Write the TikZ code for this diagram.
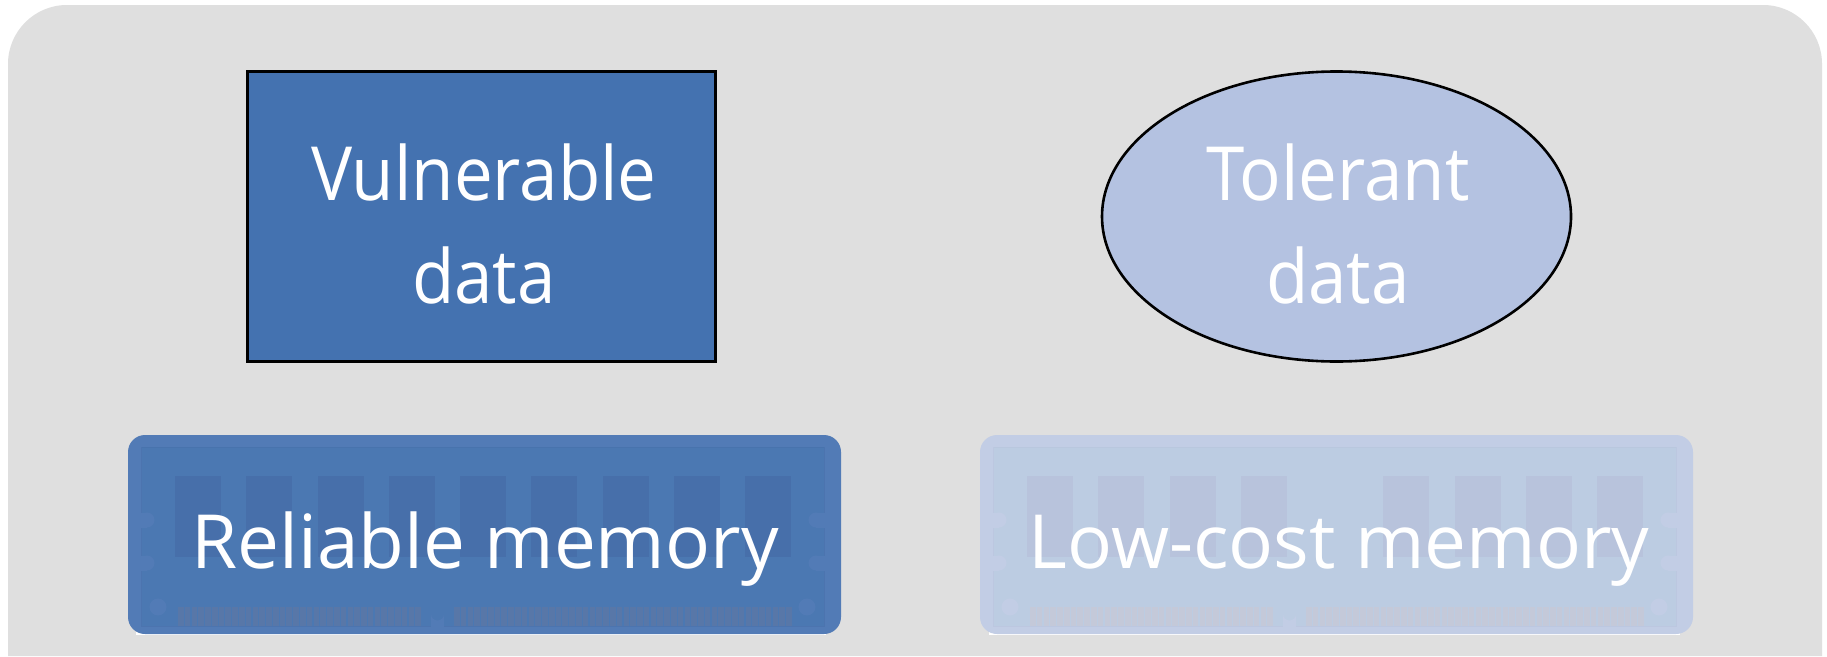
\documentclass[tikz,border=0pt]{standalone}
\usepackage{fontspec}
\setmainfont{Open Sans}
\usetikzlibrary{shapes.geometric}
\newcommand{\ramstick}[6]{% x, outer, inner, chip, pins, skip-chip
  \begin{scope}[shift={(#1,435)}]
    \fill[#2,rounded corners=17] (0,0) rectangle (713,199);
    \fill[#3] (13.5,12) rectangle (696,191);
    \draw[#4,opacity=.5,line width=1pt] (13.5,12) rectangle (696,191);
    \foreach \c in {0,...,8}{%
      \ifnum\c=#6\relax\else
      \pgfmathsetmacro{\cx}{47+71.25*\c}%
      \fill[#4] (\cx,41) rectangle ++(46,81);
      \fi}
    \foreach \ny in {85,128}{%
      \fill[#2] (12,\ny-7.5) rectangle (19,\ny+7.5);
      \fill[#2] (19,\ny) circle (7.5);
      \fill[#2] (688,\ny) circle (7.5);
      \fill[#2] (688,\ny-7.5) rectangle (697,\ny+7.5);
    }
    \fill[#2] (30,172) circle (8.5);
    \fill[#2] (679,172) circle (8.5);
    \foreach \px in {0,...,35}{\fill[#5] (50+6.78*\px,172) rectangle ++(5.6,18.5);}
    \foreach \px in {0,...,49}{\fill[#5] (326+6.78*\px,172) rectangle ++(5.6,18.5);}
    \fill[#2] (303,192) -- (303,179) arc[start angle=180,end angle=0,radius=6.5] -- (316,192) -- cycle;
  \end{scope}}
\tikzset{
  bigtext/.style={text=white,inner sep=0pt,anchor=base,font=\fontsize{74.7}{100}\selectfont},
  uppertext/.style={bigtext,xscale=.925,transform shape},
  vulnbox/.style={draw=black,line width=3pt,fill=vulnblue,minimum width=468.5pt,minimum height=290pt,inner sep=0pt},
  tolellipse/.style={ellipse,draw=black,line width=2.6pt,fill=tolblue,minimum width=469pt,minimum height=290pt,inner sep=0pt},
}
\definecolor{panel}{HTML}{DFDFDF}
\definecolor{vulnblue}{HTML}{4472B0}
\definecolor{tolblue}{HTML}{B4C2E1}
\definecolor{relout}{HTML}{527BB6}
\definecolor{relin}{HTML}{4B78B2}
\definecolor{relchip}{HTML}{476FAA}
\definecolor{relpin}{HTML}{5877A8}
\definecolor{lowout}{HTML}{C2CDE5}
\definecolor{lowin}{HTML}{BCCCE2}
\definecolor{lowchip}{HTML}{B8C3DC}
\definecolor{lowpin}{HTML}{C4C9D9}
\begin{document}
\begin{tikzpicture}[x=1pt,y=-1pt]
  \useasboundingbox (0,0) rectangle (1827,656);
  \fill[white] (0,0) rectangle (1827,656);
  \fill[panel] (8,656) [rounded corners=59] -- (8,5) -- (1822,5) [sharp corners] -- (1822,656) -- cycle;
  \fill[white] (136,620) rectangle (826,634.8);
  \fill[white] (989,620) rectangle (1680,634.8);
  \ramstick{128}{relout}{relin}{relchip}{relpin}{-1}
  \ramstick{980}{lowout}{lowin}{lowchip}{lowpin}{4}
  \node[vulnbox] (vuln) at (481.5,216.5) {};
  \node[tolellipse] (tol) at (1336.5,216.5) {};
  \node[uppertext] (vulnA) at (484,200) {Vulnerable};
  \node[uppertext] (vulnB) at (484,303) {data};
  \node[uppertext] (tolA) at (1338,200) {Tolerant};
  \node[uppertext] (tolB) at (1338,303) {data};
  \node[bigtext] (relmem) at (485,568) {Reliable memory};
  \node[bigtext] (lowmem) at (1339,568) {Low-cost memory};
\end{tikzpicture}
\end{document}
